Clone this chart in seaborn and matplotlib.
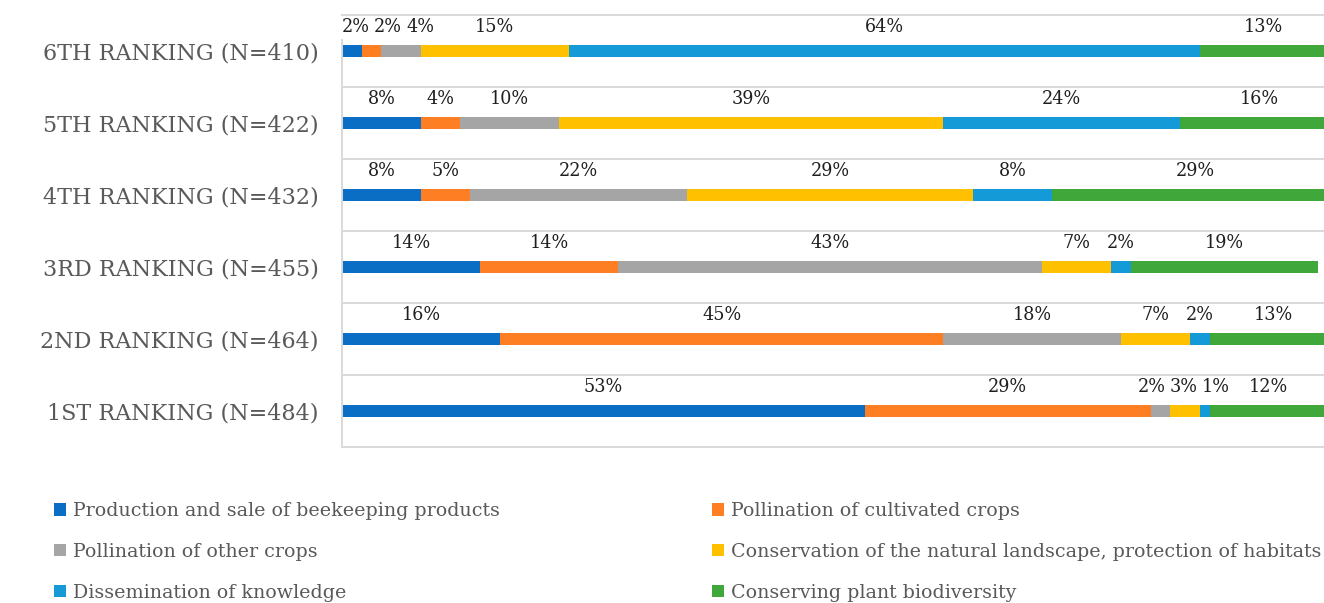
import numpy as np
import pandas as pd
import matplotlib
matplotlib.use("Agg")
import matplotlib.pyplot as plt
import seaborn as sns
from matplotlib.patches import Patch

# Rankings, top to bottom
rankings = [
    "6TH RANKING (N=410)",
    "5TH RANKING (N=422)",
    "4TH RANKING (N=432)",
    "3RD RANKING (N=455)",
    "2ND RANKING (N=464)",
    "1ST RANKING (N=484)",
]

series_names = [
    "Production and sale of beekeeping products",
    "Pollination of cultivated crops",
    "Pollination of other crops",
    "Conservation of the natural landscape, protection of habitats",
    "Dissemination of knowledge",
    "Conserving plant biodiversity",
]

# Share (%) of each answer per ranking, in the order of `rankings`
production = [2, 8, 8, 14, 16, 53]
pollination_cultivated = [2, 4, 5, 14, 45, 29]
pollination_other = [4, 10, 22, 43, 18, 2]
conservation_landscape = [15, 39, 29, 7, 7, 3]
dissemination = [64, 24, 8, 2, 2, 1]
plant_biodiversity = [13, 16, 29, 19, 13, 12]

values = [production, pollination_cultivated, pollination_other,
          conservation_landscape, dissemination, plant_biodiversity]

colors = ["#0A6FC4", "#FD7E23", "#A5A5A5", "#FFC000", "#149AD6", "#40A83A"]

sns.set_theme(style="white")
plt.rcParams["font.family"] = ["DejaVu Serif"]

# Long table with cumulative ends of each stacked segment
rows = []
for s_idx, (name, vals) in enumerate(zip(series_names, values)):
    for r_idx, rank in enumerate(rankings):
        start = sum(values[k][r_idx] for k in range(s_idx))
        rows.append({"ranking": rank, "series": name, "value": vals[r_idx],
                     "start": start, "end": start + vals[r_idx]})
df = pd.DataFrame(rows)

W, H = 1324, 603
fig = plt.figure(figsize=(W / 100, H / 100), dpi=100)
ax = fig.add_axes([342 / W, 1 - 447 / H, 986 / W, 432 / H])

# Draw from the last series backwards so shorter cumulative bars sit on top
for name, color in reversed(list(zip(series_names, colors))):
    sub = df[df["series"] == name]
    sns.barplot(data=sub, x="end", y="ranking", order=rankings, color=color,
                orient="h", width=0.167, errorbar=None, linewidth=0,
                saturation=1, ax=ax, zorder=2)

ax.set_xlim(0, 100)
ax.set_ylim(5.5, -0.5)

# Light separators between the ranking rows
ax.hlines(np.arange(-0.5, len(rankings)), 0, 101, color="#D9D9D9",
          lw=1.4, zorder=1, clip_on=False)

# Value labels above each segment
labels = {}
for _, r in df.iterrows():
    y = rankings.index(r["ranking"])
    t = ax.text((r["start"] + r["end"]) / 2, y - 0.33, f"{r['value']}%",
                ha="center", va="center", fontsize=14, color="#1F1F1F",
                family="DejaVu Serif", fontstretch="condensed", zorder=4,
                bbox=dict(boxstyle="square,pad=0.12", fc="white", ec="none"))
    labels.setdefault(y, []).append(t)

# Spread crowded labels in a row apart so they do not collide,
# keeping the first one from running past the left axis line
fig.canvas.draw()
renderer = fig.canvas.get_renderer()
units_per_px = 100 / 986
gap = 4
for y, texts in labels.items():
    texts = sorted(texts, key=lambda t: t.get_position()[0])
    xs = [t.get_position()[0] for t in texts]
    half = [t.get_window_extent(renderer).width / 2 * units_per_px for t in texts]
    for _ in range(100):
        moved = False
        if xs[0] - half[0] < 0:
            xs[0] = half[0]
        for i in range(len(xs) - 1):
            need = half[i] + half[i + 1] + gap * units_per_px
            d = xs[i + 1] - xs[i]
            if d < need - 1e-9:
                push = (need - d) / 2
                xs[i] -= push
                xs[i + 1] += push
                moved = True
        if not moved and xs[0] - half[0] >= -1e-9:
            break
    for t, x in zip(texts, xs):
        t.set_x(x)

ax.set_xlabel("")
ax.set_ylabel("")
ax.set_xticks([])
ax.tick_params(axis="y", length=0, pad=17, labelsize=16, labelcolor="#595959")
for lab in ax.get_yticklabels():
    lab.set_family("DejaVu Serif")

for side in ["top", "right", "bottom"]:
    ax.spines[side].set_visible(False)
ax.spines["left"].set_color("#D9D9D9")
ax.spines["left"].set_linewidth(1.4)

# Two-column legend underneath
handles = [Patch(facecolor=c, edgecolor="none") for c in colors]
leg_kw = dict(loc="upper left", frameon=False, fontsize=13.7, labelcolor="#595959",
              handlelength=0.63, handleheight=0.63, handletextpad=0.38,
              labelspacing=1.2, borderpad=0, borderaxespad=0)
fig.legend([handles[i] for i in (0, 2, 4)], [series_names[i] for i in (0, 2, 4)],
           bbox_to_anchor=(54 / W, 1 - 502 / H), **leg_kw)
fig.legend([handles[i] for i in (1, 3, 5)], [series_names[i] for i in (1, 3, 5)],
           bbox_to_anchor=(712 / W, 1 - 502 / H), **leg_kw)

fig.savefig("out.png", dpi=100)
